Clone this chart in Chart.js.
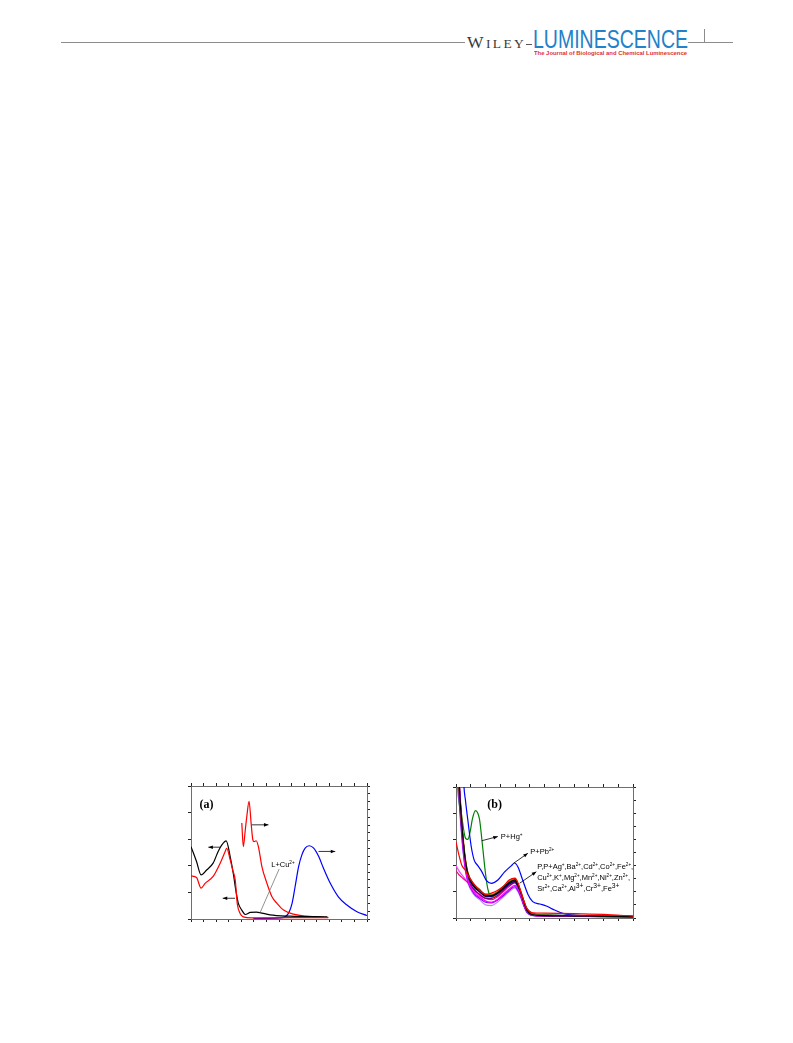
<!DOCTYPE html>
<html>
<head>
<meta charset="utf-8">
<script src="https://cdn.jsdelivr.net/npm/chart.js@4.4.0/dist/chart.umd.min.js"></script>
<style>
  html, body { margin: 0; padding: 0; background: #fff; }
  body { width: 793px; height: 1043px; position: relative; overflow: hidden; }
  .rule { position: absolute; background: #8c8c8c; height: 1px; }
  #wiley { position: absolute; left: 467px; top: 33.6px; font-family: "Liberation Serif", serif; font-size: 17.5px; line-height: 17.5px; color: #3a3a3a; letter-spacing: 2.4px; white-space: nowrap; }
  #wiley small { font-size: 13.5px; }
  #journal { position: absolute; left: 533px; top: 28.5px; font-family: "Liberation Sans", Arial, sans-serif; font-size: 25px; line-height: 20px; height: 20px; color: #2281c8; white-space: nowrap; transform-origin: 0 0; }
  #subtitle { position: absolute; left: 534px; top: 50px; font-family: "Liberation Sans", Arial, sans-serif; font-weight: bold; font-size: 6.2px; line-height: 6.2px; color: #e0302a; white-space: nowrap; transform-origin: 0 0; }
  .plot { position: absolute; }
</style>
</head>
<body>
<div class="rule" style="left:61px; top:42px; width:404px;"></div>
<div id="wiley">W<small>ILEY</small></div>
<div class="rule" style="left:526px; top:44px; width:6px; background:#555;"></div>
<div id="journal">LUMINESCENCE</div>
<div id="subtitle">The Journal of Biological and Chemical Luminescence</div>
<div class="rule" style="left:688px; top:42px; width:45px;"></div>
<div class="rule" style="left:704px; top:29px; width:1px; height:13px;"></div>

<canvas id="chartA" class="plot" width="182" height="139" style="left:188px; top:783px;"></canvas>
<canvas id="chartB" class="plot" width="183" height="137" style="left:453px; top:784px;"></canvas>

<script>
// ---- panel (a): absorbance on the left axis, emission on the right axis
const absLX = [250, 261, 270, 278, 294, 308, 318, 321, 328, 333, 338, 342, 348, 354, 371, 447, 523];
const absLY = [0.81, 0.78, 0.58, 0.67, 0.80, 1.05, 1.27, 1.33, 1.11, 0.92, 0.73, 0.29, 0.10, 0.04, 0.02, 0.025, 0.025];

const absLCuX = [250, 261, 270, 281, 294, 304, 311, 320, 328, 334, 340, 344, 351, 358, 368, 380, 387, 407, 447, 521];
const absLCuY = [1.36, 1.08, 0.83, 0.92, 1.05, 1.27, 1.39, 1.47, 1.17, 0.86, 0.49, 0.30, 0.166, 0.085, 0.123, 0.128, 0.12, 0.077, 0.053, 0.04];

const emLX = [351, 354, 358, 361, 365.5, 369.5, 373, 375.5, 379.5, 384, 391, 401, 411, 421, 434, 454, 480, 523];
const emLY = [614, 463, 571, 656, 752, 614, 506, 495, 500, 463, 335, 228, 142, 100, 57, 31, 18, 10];

const emLCuX = [374, 427, 441, 451, 457, 464, 470.5, 477, 485, 494, 504, 513.5, 527, 543, 560, 580, 600];
const emLCuY = [3, 7, 24, 100, 206, 335, 410, 453, 468, 453, 399, 324, 228, 142, 89, 46, 22];

// ---- panel (b): absorbance of P with metal ions
const wlB = [250, 255, 260, 265, 270, 280, 290, 300, 310, 320, 330, 340, 350, 355, 360, 365, 370, 380, 400, 450, 500, 550];
const ionNames = ['P', 'P+Ag+', 'Ba2+', 'Cd2+', 'Co2+', 'Fe2+', 'Cu2+', 'K+', 'Mg2+', 'Mn2+', 'Ni2+', 'Zn2+', 'Sr2+', 'Ca2+', 'Al3+', 'Cr3+', 'Fe3+'];
const ionColors = ['#000000', '#ff0000', '#ff00ff', '#808000', '#000080', '#800080', '#800000', '#008080', '#ff8000', '#8000ff', '#ff0080', '#b0b000', '#c080ff', '#00a0a0', '#808080', '#ff40ff', '#a05000'];
const absP    = [1.60, 1.05, 0.71, 0.47, 0.34, 0.25, 0.21, 0.17, 0.17, 0.19, 0.23, 0.27, 0.29, 0.25, 0.19, 0.12, 0.06, 0.025, 0.018, 0.015, 0.013, 0.010];
const absAg   = [0.58, 0.48, 0.40, 0.37, 0.33, 0.26, 0.21, 0.18, 0.19, 0.21, 0.24, 0.29, 0.305, 0.27, 0.20, 0.13, 0.075, 0.040, 0.037, 0.034, 0.027, 0.015];
const absBa   = [1.70, 1.10, 0.68, 0.42, 0.29, 0.20, 0.16, 0.13, 0.12, 0.14, 0.18, 0.22, 0.25, 0.22, 0.17, 0.10, 0.05, 0.022, 0.016, 0.014, 0.012, 0.010];
const absCd   = [1.55, 1.00, 0.70, 0.48, 0.35, 0.26, 0.22, 0.18, 0.18, 0.20, 0.24, 0.28, 0.30, 0.26, 0.20, 0.13, 0.07, 0.030, 0.022, 0.018, 0.015, 0.012];
const absCo   = [1.65, 1.08, 0.72, 0.46, 0.33, 0.24, 0.20, 0.165, 0.165, 0.185, 0.22, 0.26, 0.28, 0.24, 0.18, 0.11, 0.055, 0.024, 0.018, 0.015, 0.013, 0.011];
const absFe2  = [1.50, 0.98, 0.66, 0.44, 0.31, 0.22, 0.18, 0.15, 0.15, 0.17, 0.21, 0.25, 0.27, 0.23, 0.17, 0.10, 0.05, 0.020, 0.015, 0.013, 0.011, 0.009];
const absCu   = [1.58, 1.02, 0.69, 0.46, 0.33, 0.25, 0.21, 0.18, 0.175, 0.195, 0.235, 0.275, 0.295, 0.255, 0.19, 0.12, 0.065, 0.028, 0.020, 0.016, 0.013, 0.011];
const absK    = [1.62, 1.06, 0.70, 0.45, 0.32, 0.24, 0.20, 0.17, 0.17, 0.19, 0.23, 0.27, 0.285, 0.25, 0.19, 0.12, 0.07, 0.035, 0.025, 0.020, 0.016, 0.012];
const absMg   = [1.75, 1.12, 0.74, 0.49, 0.35, 0.26, 0.21, 0.16, 0.15, 0.18, 0.22, 0.26, 0.28, 0.24, 0.18, 0.11, 0.055, 0.024, 0.018, 0.015, 0.013, 0.011];
const absMn   = [1.45, 0.95, 0.62, 0.40, 0.28, 0.19, 0.15, 0.12, 0.115, 0.135, 0.17, 0.21, 0.24, 0.21, 0.16, 0.095, 0.045, 0.020, 0.015, 0.013, 0.011, 0.009];
const absNi   = [0.36, 0.33, 0.31, 0.29, 0.27, 0.22, 0.18, 0.15, 0.14, 0.16, 0.20, 0.24, 0.27, 0.24, 0.18, 0.11, 0.055, 0.025, 0.020, 0.017, 0.014, 0.012];
const absZn   = [1.52, 1.00, 0.67, 0.45, 0.33, 0.25, 0.21, 0.175, 0.17, 0.19, 0.23, 0.27, 0.29, 0.25, 0.195, 0.125, 0.065, 0.028, 0.020, 0.016, 0.013, 0.011];
const absSr   = [1.40, 0.92, 0.60, 0.39, 0.27, 0.18, 0.14, 0.10, 0.095, 0.12, 0.16, 0.20, 0.23, 0.20, 0.15, 0.09, 0.04, 0.018, 0.014, 0.012, 0.010, 0.008];
const absCa   = [1.57, 1.03, 0.70, 0.46, 0.33, 0.245, 0.205, 0.17, 0.17, 0.19, 0.225, 0.265, 0.285, 0.25, 0.19, 0.12, 0.065, 0.030, 0.022, 0.018, 0.015, 0.012];
const absAl   = [1.60, 1.04, 0.70, 0.46, 0.33, 0.245, 0.205, 0.17, 0.165, 0.185, 0.225, 0.265, 0.285, 0.245, 0.185, 0.115, 0.06, 0.025, 0.018, 0.015, 0.013, 0.010];
const absCr   = [0.40, 0.36, 0.33, 0.30, 0.27, 0.21, 0.17, 0.13, 0.12, 0.14, 0.18, 0.22, 0.25, 0.22, 0.165, 0.10, 0.05, 0.022, 0.017, 0.014, 0.012, 0.010];
const absFe3  = [1.55, 1.02, 0.69, 0.46, 0.335, 0.25, 0.21, 0.175, 0.175, 0.195, 0.235, 0.275, 0.30, 0.26, 0.20, 0.13, 0.07, 0.030, 0.022, 0.018, 0.015, 0.012];
const ionAbs = [absP, absAg, absBa, absCd, absCo, absFe2, absCu, absK, absMg, absMn, absNi, absZn, absSr, absCa, absAl, absCr, absFe3];

const hgX = [250, 253, 259, 266, 270, 274, 278, 283, 287, 290, 295, 300, 304, 310, 320, 330, 340, 350, 355, 360, 365, 370, 375, 400, 450, 500, 550];
const hgY = [1.50, 1.00, 0.80, 0.61, 0.60, 0.66, 0.76, 0.82, 0.80, 0.75, 0.55, 0.34, 0.22, 0.16, 0.18, 0.22, 0.26, 0.28, 0.25, 0.19, 0.13, 0.07, 0.035, 0.02, 0.017, 0.014, 0.012];

const pbX = [250, 263, 266, 270, 276, 281, 287, 293, 301, 310, 321, 332, 344, 349, 355, 363, 372, 380, 392, 403, 417, 434, 457, 502, 550];
const pbY = [3.5, 1.05, 0.90, 0.75, 0.54, 0.44, 0.40, 0.36, 0.29, 0.265, 0.29, 0.35, 0.40, 0.42, 0.39, 0.29, 0.18, 0.125, 0.107, 0.092, 0.061, 0.031, 0.021, 0.015, 0.010];

// annotation positions (data units of the bottom / left axes)
const notesA = [
  { text: '(a)', x: 267, y: 2.09, font: 'bold 12px "Liberation Serif", serif' },
  { arrow: [307.8, 1.35, 284.5, 1.35] },
  { arrow: [337.6, 0.39, 313.1, 0.39] },
  { arrow: [370.9, 1.77, 404, 1.77] },
  { arrow: [503.6, 1.27, 536.8, 1.27] },
  { line: [425.3, 0.94, 387.4, 0.12], color: '#777' },
  { text: 'L+Cu^{2+}', x: 409.5, y: 0.98, size: 7.5 }
];
const notesB = [
  { text: '(b)', x: 303, y: 0.84, font: 'bold 12px "Liberation Serif", serif' },
  { arrow: [293.8, 0.59, 320.9, 0.622] },
  { text: 'P+Hg^{+}', x: 326, y: 0.60, size: 7.5 },
  { arrow: [347.6, 0.418, 371.8, 0.494] },
  { text: 'P+Pb^{2+}', x: 376, y: 0.49, size: 7.5 },
  { arrow: [357.8, 0.265, 386.1, 0.353] },
  { text: 'P,P+Ag^{+},Ba^{2+},Cd^{2+},Co^{2+},Fe^{2+},', x: 387.5, y: 0.374, size: 7.5 },
  { text: 'Cu^{2+},K^{+},Mg^{2+},Mn^{2+},Ni^{2+},Zn^{2+},', x: 387.5, y: 0.290, size: 7.5 },
  { text: 'Sr^{2+},Ca^{2+},Al^[3+],Cr^[3+],Fe^[3+]', x: 387.5, y: 0.205, size: 7.5 }
];

function pts(xs, ys) {
  return xs.map((x, i) => ({ x: x, y: ys[i] }));
}

function drawRich(ctx, str, x, y, size) {
  const re = /\^\{([^}]*)\}|\^\[([^\]]*)\]|[^^]+/g;
  let m;
  ctx.textBaseline = 'alphabetic';
  ctx.textAlign = 'left';
  while ((m = re.exec(str)) !== null) {
    let s = size, dy = 0, t = m[0];
    if (m[1] !== undefined) { t = m[1]; s = size * 0.62; dy = -size * 0.42; }
    else if (m[2] !== undefined) { t = m[2]; s = size * 0.9; dy = -size * 0.38; }
    ctx.font = s + 'px "Liberation Sans", Arial, sans-serif';
    ctx.fillText(t, x, y + dy);
    x += ctx.measureText(t).width;
  }
}

const notesPlugin = {
  id: 'notes',
  afterDatasetsDraw(chart, args, opts) {
    const ctx = chart.ctx;
    const xs = chart.scales.x, ys = chart.scales.y;
    const px = v => xs.getPixelForValue(v);
    const py = v => ys.getPixelForValue(v);
    ctx.save();
    ctx.fillStyle = '#000';
    (opts.items || []).forEach(it => {
      if (it.arrow || it.line) {
        const a = it.arrow || it.line;
        const x1 = px(a[0]), y1 = py(a[1]), x2 = px(a[2]), y2 = py(a[3]);
        ctx.strokeStyle = it.color || '#000';
        ctx.lineWidth = 0.8;
        ctx.beginPath();
        ctx.moveTo(x1, y1);
        ctx.lineTo(x2, y2);
        ctx.stroke();
        if (it.arrow) {
          const ang = Math.atan2(y2 - y1, x2 - x1);
          const L = 4.5, W = 1.8;
          ctx.beginPath();
          ctx.moveTo(x2, y2);
          ctx.lineTo(x2 - L * Math.cos(ang) + W * Math.sin(ang), y2 - L * Math.sin(ang) - W * Math.cos(ang));
          ctx.lineTo(x2 - L * Math.cos(ang) - W * Math.sin(ang), y2 - L * Math.sin(ang) + W * Math.cos(ang));
          ctx.closePath();
          ctx.fill();
        }
      } else if (it.text) {
        if (it.font) {
          ctx.font = it.font;
          ctx.textBaseline = 'alphabetic';
          ctx.fillText(it.text, px(it.x), py(it.y));
        } else {
          drawRich(ctx, it.text, px(it.x), py(it.y), it.size);
        }
      }
    });
    ctx.restore();
  }
};

function axis(pos, min, max, step) {
  return {
    type: 'linear',
    position: pos,
    min: min,
    max: max,
    ticks: { display: false, stepSize: step },
    grid: { drawOnChartArea: false, drawTicks: true, tickLength: 3, color: '#222', lineWidth: 1 },
    border: { display: true, color: '#6e6e6e', width: 1 }
  };
}

function line(data, color, axisId) {
  return {
    data: data,
    borderColor: color,
    borderWidth: 1.2,
    pointRadius: 0,
    fill: false,
    cubicInterpolationMode: 'monotone',
    yAxisID: axisId || 'y'
  };
}

const baseOpts = {
  responsive: false,
  animation: false,
  events: [],
  layout: { padding: 0 },
  plugins: { legend: { display: false }, tooltip: { enabled: false } }
};

new Chart(document.getElementById('chartA').getContext('2d'), {
  type: 'line',
  data: {
    datasets: [
      line(pts(absLX, absLY), '#ff0000'),
      line(pts(absLCuX, absLCuY), '#000000'),
      line(pts(emLX, emLY), '#ff0000', 'y2'),
      line(pts(emLCuX, emLCuY), '#0000ff', 'y2')
    ]
  },
  options: Object.assign({}, baseOpts, {
    scales: {
      x: axis('bottom', 250, 600, 25),
      x2: axis('top', 250, 600, 25),
      y: axis('left', 0, 2.5, 0.5),
      y2: axis('right', 0, 850, 50)
    },
    plugins: Object.assign({}, baseOpts.plugins, { notes: { items: notesA } })
  }),
  plugins: [notesPlugin]
});

const setsB = ionAbs.map((arr, i) => line(pts(wlB, arr), ionColors[i]));
setsB.push(line(pts(pbX, pbY), '#0000ff'));
setsB.push(line(pts(hgX, hgY), '#008000'));
// keep red on top like the original
setsB.unshift(setsB.splice(1, 1)[0]);

new Chart(document.getElementById('chartB').getContext('2d'), {
  type: 'line',
  data: { datasets: setsB },
  options: Object.assign({}, baseOpts, {
    scales: {
      x: axis('bottom', 250, 550, 25),
      x2: axis('top', 250, 550, 25),
      y: axis('left', 0, 1.0, 0.2),
      y2: axis('right', 0, 1.0, 0.1)
    },
    plugins: Object.assign({}, baseOpts.plugins, { notes: { items: notesB } })
  }),
  plugins: [notesPlugin]
});

// fit the header words to the width they take in the original
function fitWidth(id, w) {
  const el = document.getElementById(id);
  const cur = el.getBoundingClientRect().width;
  el.style.transform = 'scaleX(' + (w / cur) + ')';
}
fitWidth('journal', 155);
fitWidth('subtitle', 153);
</script>
</body>
</html>
